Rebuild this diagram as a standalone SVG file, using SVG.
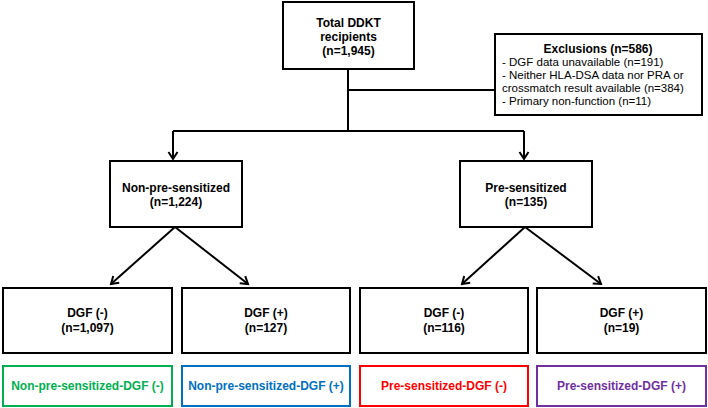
<svg xmlns="http://www.w3.org/2000/svg" width="708" height="408" viewBox="0 0 708 408">
<defs>
<style>
.box{fill:#fff;stroke:#000;stroke-width:2}
.t{font-family:"Liberation Sans",Arial,sans-serif;font-size:12px;font-weight:bold;text-anchor:middle;fill:#000}
.r{font-family:"Liberation Sans",Arial,sans-serif;font-size:11.5px;fill:#000}
.ln{fill:none;stroke:#000;stroke-width:2}
.arr{marker-end:url(#ah)}
.cb{fill:#fff;stroke-width:2}
</style>
<marker id="ah" markerUnits="userSpaceOnUse" markerWidth="16" markerHeight="16" viewBox="-9 -8 11 16" refX="0" refY="0" orient="auto" overflow="visible">
<path d="M-7,-4.5 L0,0 L-7,4.5" fill="none" stroke="#000" stroke-width="2"/>
</marker>
</defs>
<g id="connectors">
<path class="ln" d="M348,69 V131"/>
<path class="ln" d="M348,90 H495"/>
<path class="ln" d="M173,131 H524"/>
<path class="ln arr" d="M173,131 V159"/>
<path class="ln arr" d="M524,131 V159"/>
<path class="ln arr" d="M175,227 L111,284"/>
<path class="ln arr" d="M175,227 L248,284"/>
<path class="ln arr" d="M525,227 L462,284"/>
<path class="ln arr" d="M525,227 L601,284"/>
</g>
<g id="total">
<rect class="box" x="283" y="2" width="131" height="67"/>
<text class="t" x="348.5" y="27">Total DDKT</text>
<text class="t" x="348.5" y="41">recipients</text>
<text class="t" x="348.5" y="55">(n=1,945)</text>
</g>
<g id="exclusions">
<rect class="box" x="495" y="34" width="207" height="81"/>
<text class="t" x="598" y="53">Exclusions (n=586)</text>
<text class="r" x="502" y="66">- DGF data unavailable (n=191)</text>
<text class="r" x="502" y="79">- Neither HLA-DSA data nor PRA or</text>
<text class="r" x="502" y="92">crossmatch result available (n=384)</text>
<text class="r" x="502" y="105">- Primary non-function (n=11)</text>
</g>
<g id="nonpre">
<rect class="box" x="110" y="161" width="132" height="66"/>
<text class="t" x="176" y="192">Non-pre-sensitized</text>
<text class="t" x="176" y="206">(n=1,224)</text>
</g>
<g id="pre">
<rect class="box" x="460" y="161" width="132" height="66"/>
<text class="t" x="526" y="192">Pre-sensitized</text>
<text class="t" x="526" y="206">(n=135)</text>
</g>
<g id="dgf1">
<rect class="box" x="3" y="288" width="169" height="65"/>
<text class="t" x="87.5" y="317">DGF (-)</text>
<text class="t" x="87.5" y="332">(n=1,097)</text>
</g>
<g id="dgf2">
<rect class="box" x="182" y="288" width="168" height="65"/>
<text class="t" x="266" y="317">DGF (+)</text>
<text class="t" x="266" y="332">(n=127)</text>
</g>
<g id="dgf3">
<rect class="box" x="360" y="288" width="168" height="65"/>
<text class="t" x="444" y="317">DGF (-)</text>
<text class="t" x="444" y="332">(n=116)</text>
</g>
<g id="dgf4">
<rect class="box" x="537" y="288" width="169" height="65"/>
<text class="t" x="621.5" y="317">DGF (+)</text>
<text class="t" x="621.5" y="332">(n=19)</text>
</g>
<g id="grp1">
<rect class="cb" x="3" y="366" width="169" height="40" stroke="#00b050"/>
<text class="t" x="87.5" y="390" fill="#00b050" style="fill:#00b050">Non-pre-sensitized-DGF (-)</text>
</g>
<g id="grp2">
<rect class="cb" x="182" y="366" width="168" height="40" stroke="#0070c0"/>
<text class="t" x="266" y="390" style="fill:#0070c0">Non-pre-sensitized-DGF (+)</text>
</g>
<g id="grp3">
<rect class="cb" x="360" y="366" width="168" height="40" stroke="#ff0000"/>
<text class="t" x="444" y="390" style="fill:#ff0000">Pre-sensitized-DGF (-)</text>
</g>
<g id="grp4">
<rect class="cb" x="537" y="366" width="169" height="40" stroke="#7030a0"/>
<text class="t" x="621.5" y="390" style="fill:#7030a0">Pre-sensitized-DGF (+)</text>
</g>
</svg>
